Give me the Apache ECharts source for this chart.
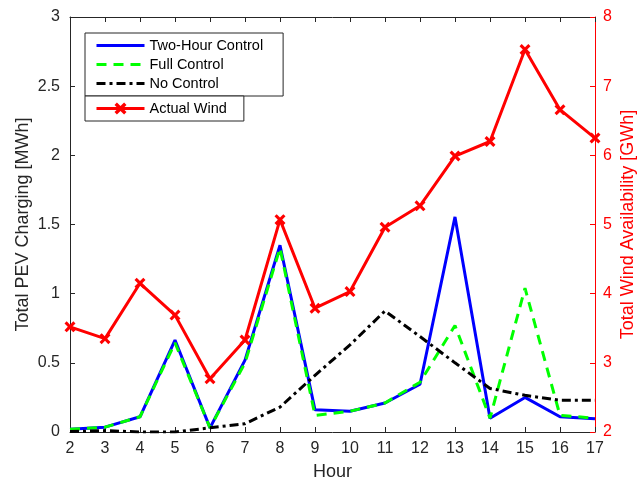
<!DOCTYPE html>
<html>
<head>
<meta charset="utf-8">
<script src="https://cdn.jsdelivr.net/npm/echarts@6/dist/echarts.min.js"></script>
<style>html,body{margin:0;padding:0;background:#fff}#c{width:637px;height:479px}</style>
</head>
<body>
<div id="c"></div>
<script>
var hours = [2, 3, 4, 5, 6, 7, 8, 9, 10, 11, 12, 13, 14, 15, 16, 17];
var twoHourControl = [0.02, 0.035, 0.11, 0.665, 0.03, 0.52, 1.35, 0.16, 0.15, 0.21, 0.345, 1.555, 0.10, 0.25, 0.11, 0.095];
var fullControl = [0.02, 0.035, 0.11, 0.645, 0.03, 0.50, 1.33, 0.12, 0.15, 0.21, 0.36, 0.77, 0.10, 1.04, 0.12, 0.10];
var noControl = [0.003, 0.01, 0.0, 0.0, 0.03, 0.06, 0.18, 0.41, 0.63, 0.875, 0.69, 0.50, 0.315, 0.265, 0.23, 0.23];
var actualWind = [3.52, 3.35, 4.15, 3.69, 2.77, 3.33, 5.07, 3.79, 4.03, 4.96, 5.27, 5.99, 6.20, 7.53, 6.66, 6.25];

function pairs(ys) { return hours.map(function (h, i) { return [h, ys[i]]; }); }

var FONT = 'Liberation Sans, Arial, Helvetica, sans-serif';
var AX = '#262626';
var xMark = 'path://M2,0 L5,3 L8,0 L10,2 L7,5 L10,8 L8,10 L5,7 L2,10 L0,8 L3,5 L0,2 Z';
var noSym = {color: 'rgba(0,0,0,0)', borderWidth: 0, borderColor: 'rgba(0,0,0,0)'};

var chart = echarts.init(document.getElementById('c'), null, {renderer: 'canvas'});
chart.setOption({
  animation: false,
  backgroundColor: '#fff',
  textStyle: {fontFamily: FONT},
  grid: {left: 70, right: 42, top: 17, bottom: 47, containLabel: false, outerBoundsMode: 'none'},
  legend: [{
    orient: 'vertical', left: 85, top: 33,
    data: [
      {name: 'Two-Hour Control', itemStyle: noSym},
      {name: 'Full Control', itemStyle: noSym},
      {name: 'No Control', itemStyle: noSym}
    ],
    itemWidth: 48, itemHeight: 15, itemGap: 4,
    padding: [5, 20, 5, 10],
    borderColor: AX, borderWidth: 1, backgroundColor: '#fff', borderRadius: 0,
    textStyle: {fontSize: 14.5, lineHeight: 15, color: '#000', fontFamily: FONT},
    lineStyle: {width: 3},
    selectedMode: false
  }, {
    orient: 'vertical', left: 85, top: 96,
    data: ['Actual Wind'],
    itemWidth: 48, itemHeight: 15, itemGap: 4,
    padding: [5, 17, 5, 10],
    borderColor: AX, borderWidth: 1, backgroundColor: '#fff', borderRadius: 0,
    textStyle: {fontSize: 14.5, lineHeight: 15, color: '#000', fontFamily: FONT},
    lineStyle: {width: 3},
    selectedMode: false
  }],
  xAxis: [{
    type: 'value', min: 2, max: 17, interval: 1, position: 'bottom',
    name: 'Hour', nameLocation: 'middle', nameGap: 31, nameMoveOverlap: false,
    nameTextStyle: {fontSize: 18, color: AX, fontFamily: FONT},
    axisLine: {show: true, onZero: false, lineStyle: {color: AX, width: 1}},
    axisTick: {show: true, inside: true, length: 5, lineStyle: {color: AX}},
    axisLabel: {fontSize: 16, color: AX, margin: 9, fontFamily: FONT},
    splitLine: {show: false}
  }, {
    type: 'value', min: 2, max: 17, interval: 1, position: 'top',
    axisLine: {show: true, onZero: false, lineStyle: {color: AX, width: 1}},
    axisTick: {show: true, inside: true, length: 5, lineStyle: {color: AX}},
    axisLabel: {show: false},
    splitLine: {show: false}
  }],
  yAxis: [{
    type: 'value', min: 0, max: 3, interval: 0.5, position: 'left',
    name: 'Total PEV Charging [MWh]', nameLocation: 'middle', nameGap: 38, nameMoveOverlap: false,
    nameTextStyle: {fontSize: 18, color: AX, fontFamily: FONT},
    axisLine: {show: true, onZero: false, lineStyle: {color: AX, width: 1}},
    axisTick: {show: true, inside: true, length: 5, lineStyle: {color: AX}},
    axisLabel: {fontSize: 16, color: AX, margin: 10, fontFamily: FONT},
    splitLine: {show: false}
  }, {
    type: 'value', min: 2, max: 8, interval: 1, position: 'right',
    name: 'Total Wind Availability [GWh]', nameLocation: 'middle', nameGap: 24, nameMoveOverlap: false,
    nameRotate: 90,
    nameTextStyle: {fontSize: 18, color: '#ff0000', fontFamily: FONT},
    axisLine: {show: true, onZero: false, lineStyle: {color: '#ff0000', width: 1}},
    axisTick: {show: true, inside: true, length: 5, lineStyle: {color: '#ff0000'}},
    axisLabel: {fontSize: 16, color: '#ff0000', margin: 8, fontFamily: FONT},
    splitLine: {show: false}
  }],
  series: [{
    name: 'Two-Hour Control', type: 'line', xAxisIndex: 0, yAxisIndex: 0,
    data: pairs(twoHourControl), symbol: 'none', z: 2,
    lineStyle: {color: '#0000ff', width: 3}, itemStyle: {color: '#0000ff'}
  }, {
    name: 'Full Control', type: 'line', xAxisIndex: 0, yAxisIndex: 0,
    data: pairs(fullControl), symbol: 'none', z: 3,
    lineStyle: {color: '#00ff00', width: 3, type: [10, 7]}, itemStyle: {color: '#00ff00'}
  }, {
    name: 'No Control', type: 'line', xAxisIndex: 0, yAxisIndex: 0,
    data: pairs(noControl), symbol: 'none', z: 4,
    lineStyle: {color: '#000000', width: 3, type: [9, 4, 3, 4]}, itemStyle: {color: '#000000'}
  }, {
    name: 'Actual Wind', type: 'line', xAxisIndex: 0, yAxisIndex: 1,
    data: pairs(actualWind), symbol: xMark, symbolSize: 11, showSymbol: true, z: 5,
    lineStyle: {color: '#ff0000', width: 3}, itemStyle: {color: '#ff0000'}
  }]
});
</script>
</body>
</html>
